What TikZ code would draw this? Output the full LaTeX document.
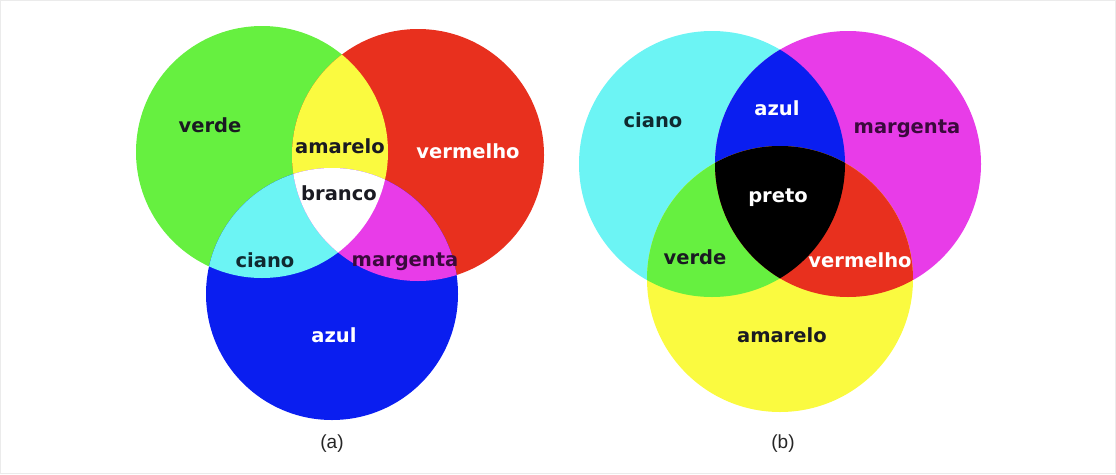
\documentclass[tikz,border=0pt]{standalone}
\usepackage{fontspec}
\setmainfont{DejaVu Sans}
\newfontfamily\capfont{Liberation Sans}
\definecolor{cgreen}{HTML}{66F040}
\definecolor{cred}{HTML}{E8301E}
\definecolor{cblue}{HTML}{0A1EF0}
\definecolor{cyellow}{HTML}{FAFA40}
\definecolor{ccyan}{HTML}{6CF4F4}
\definecolor{cmag}{HTML}{E83CE8}
\definecolor{tdark}{HTML}{1A1A22}
\definecolor{tcyan}{HTML}{102A30}
\definecolor{tmag}{HTML}{3A0A3C}
\tikzset{
  lbl/.style={font=\bfseries\fontsize{19.5}{19.5}\selectfont, inner sep=0pt, anchor=base},
  captxt/.style={font=\capfont\fontsize{19}{19}\selectfont, inner sep=0pt, text=black!85},
}
\begin{document}
\begin{tikzpicture}[x=1pt,y=-1pt]
\useasboundingbox (0,0) rectangle (1116,474);
\draw[black!8, line width=0.8pt] (0.5,0.5) rectangle (1115.5,473.5);
% ---------- (a) additive ----------
\coordinate (G) at (262,152);
\coordinate (R) at (418,155);
\coordinate (B) at (332,294);
\def\ra{126}
\fill[cgreen] (G) circle (\ra);
\fill[cred] (R) circle (\ra);
\fill[cblue] (B) circle (\ra);
\begin{scope}
  \clip (G) circle (\ra);
  \fill[cyellow] (R) circle (\ra);
  \fill[ccyan] (B) circle (\ra);
\end{scope}
\begin{scope}
  \clip (R) circle (\ra);
  \fill[cmag] (B) circle (\ra);
\end{scope}
\begin{scope}
  \clip (G) circle (\ra);
  \clip (R) circle (\ra);
  \fill[white] (B) circle (\ra);
\end{scope}
\node[lbl, text=tdark] (verde) at (210,132) {verde};
\node[lbl, text=tdark] (amarelo) at (340,153) {amarelo};
\node[lbl, text=white] (vermelho) at (468,158) {vermelho};
\node[lbl, text=tdark] (branco) at (339,200) {branco};
\node[lbl, text=tcyan] (ciano) at (265,267) {ciano};
\node[lbl, text=tmag] (margenta) at (405,266) {margenta};
\node[lbl, text=white] (azul) at (334,342) {azul};
\node[captxt] (capa) at (332,444) {(a)};
% ---------- (b) subtractive ----------
\coordinate (C) at (712,164);
\coordinate (M) at (848,164);
\coordinate (Y) at (780,279);
\def\rb{133}
\fill[ccyan] (C) circle (\rb);
\fill[cmag] (M) circle (\rb);
\fill[cyellow] (Y) circle (\rb);
\begin{scope}
  \clip (C) circle (\rb);
  \fill[cblue] (M) circle (\rb);
  \fill[cgreen] (Y) circle (\rb);
\end{scope}
\begin{scope}
  \clip (M) circle (\rb);
  \fill[cred] (Y) circle (\rb);
\end{scope}
\begin{scope}
  \clip (C) circle (\rb);
  \clip (M) circle (\rb);
  \fill[black] (Y) circle (\rb);
\end{scope}
\node[lbl, text=tcyan] (cianob) at (653,127) {ciano};
\node[lbl, text=white] (azulb) at (777,115) {azul};
\node[lbl, text=tmag] (margentab) at (907,133) {margenta};
\node[lbl, text=white] (pretob) at (778,202) {preto};
\node[lbl, text=tdark] (verdeb) at (695,264) {verde};
\node[lbl, text=white] (vermelhob) at (860,267) {vermelho};
\node[lbl, text=tdark] (amarelob) at (782,342) {amarelo};
\node[captxt] (capb) at (783,444) {(b)};
\end{tikzpicture}
\end{document}
